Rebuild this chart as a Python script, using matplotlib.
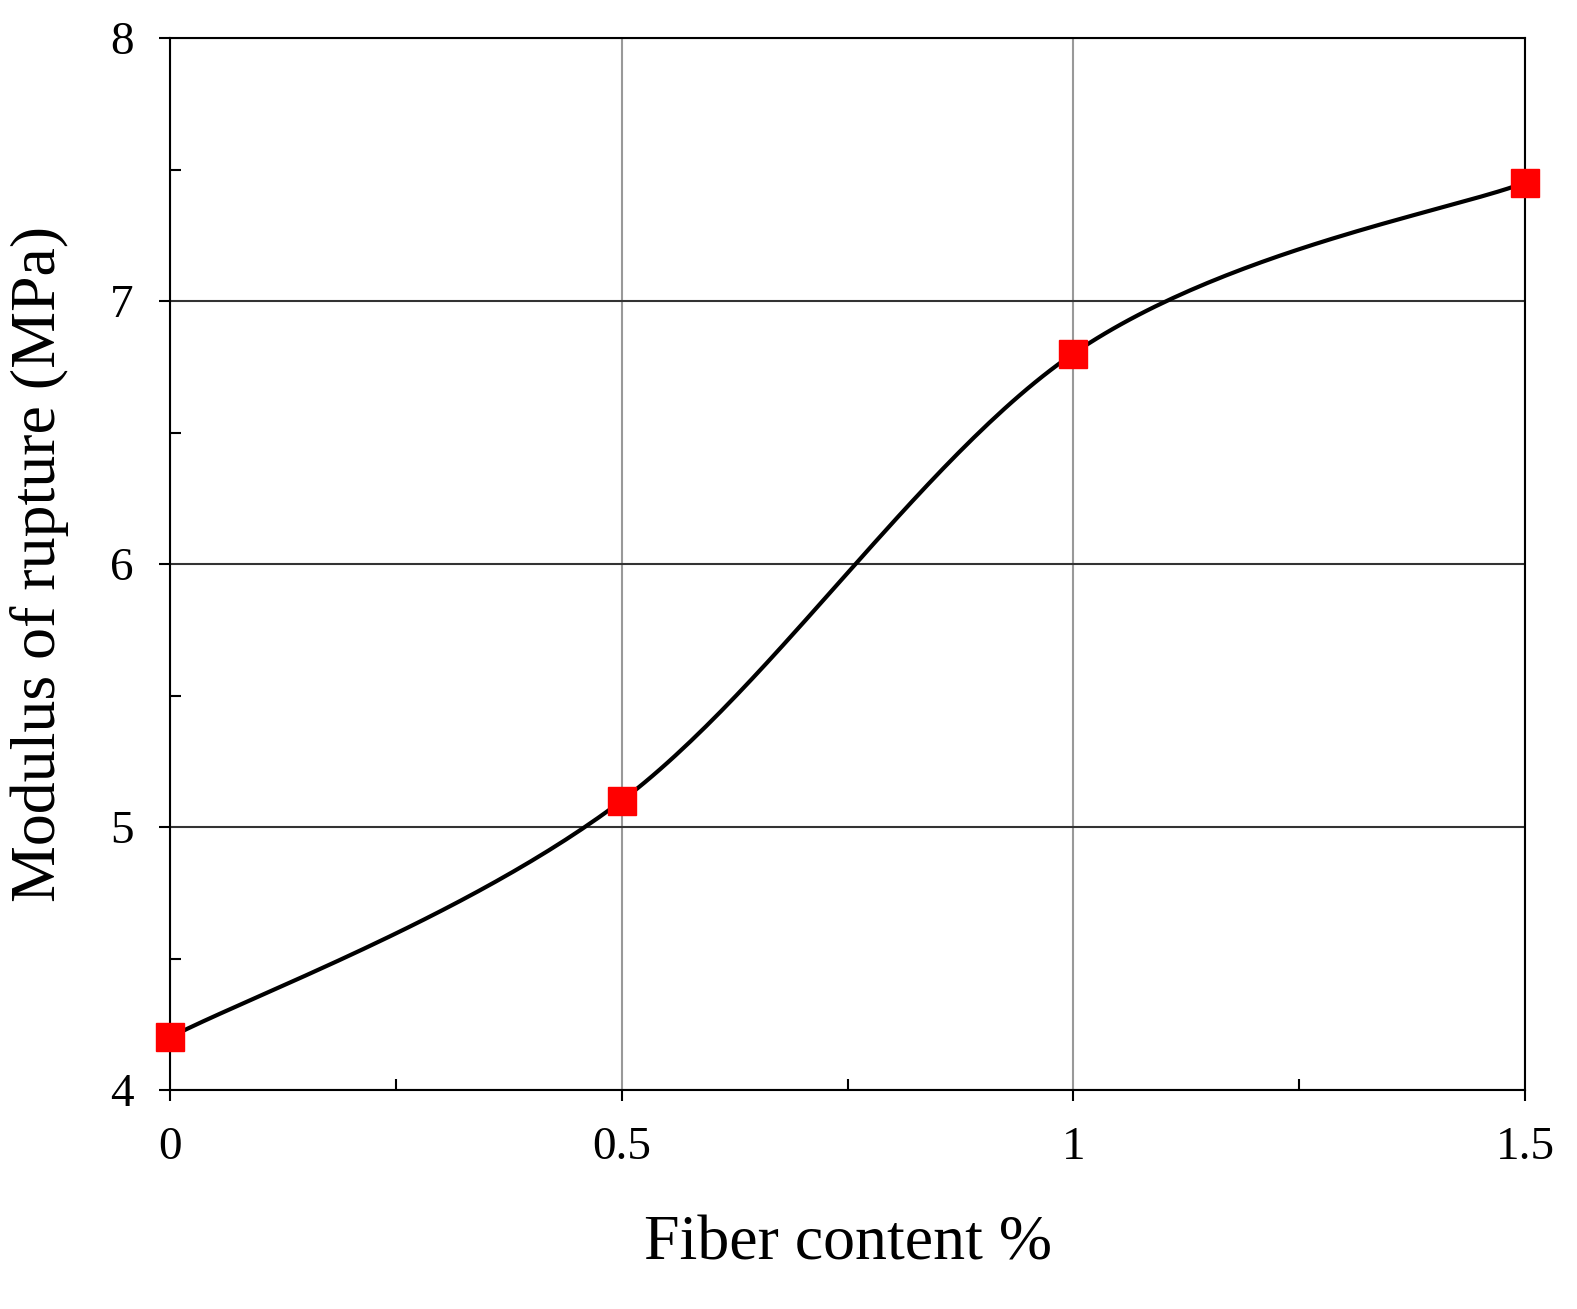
import matplotlib
matplotlib.use("Agg")
import matplotlib.pyplot as plt
import numpy as np
from matplotlib.ticker import MultipleLocator

fiber = [0, 0.5, 1.0, 1.5]
mor = [4.2, 5.1, 6.8, 7.45]

def catmull_rom(x, y, n=60):
    # Excel-style smoothed line through the points
    p = np.column_stack([x, y]).astype(float)
    p = np.vstack([p[0], p, p[-1]])
    out = []
    for i in range(1, len(p) - 2):
        t = np.linspace(0, 1, n)[:, None]
        p0, p1, p2, p3 = p[i - 1], p[i], p[i + 1], p[i + 2]
        seg = 0.5 * ((2 * p1) + (-p0 + p2) * t + (2 * p0 - 5 * p1 + 4 * p2 - p3) * t**2
                     + (-p0 + 3 * p1 - 3 * p2 + p3) * t**3)
        out.append(seg)
    s = np.vstack(out)
    return s[:, 0], s[:, 1]

plt.rcParams['font.family'] = ['Liberation Serif']
fig = plt.figure(figsize=(15.77, 13.09), dpi=100)
ax = fig.add_axes([170 / 1577, 1 - 1090 / 1309, 1355 / 1577, 1052 / 1309])

sx, sy = catmull_rom(fiber, mor)
ax.plot(sx, sy, color='black', linewidth=3, zorder=3)
ax.plot(fiber, mor, linestyle='none', marker='s', markersize=20, color='#ff0000', zorder=4, clip_on=False)

ax.set_xlim(0, 1.5)
ax.set_ylim(4, 8)
ax.xaxis.set_major_locator(MultipleLocator(0.5))
ax.xaxis.set_minor_locator(MultipleLocator(0.25))
ax.yaxis.set_major_locator(MultipleLocator(1))
ax.yaxis.set_minor_locator(MultipleLocator(0.5))
ax.set_xticks([0, 0.5, 1, 1.5], ['0', '0.5', '1', '1.5'])
ax.grid(True, axis='x', which='major', color='#999999', linewidth=1.5)
ax.grid(True, axis='y', which='major', color='#333333', linewidth=1.5)
ax.tick_params(which='major', direction='out', length=8, width=1.5, labelsize=34, pad=18)
ax.tick_params(which='minor', direction='in', length=8, width=1.5)
for sp in ax.spines.values():
    sp.set_linewidth(1.5)

ax.set_xlabel('Fiber content %', fontsize=46, labelpad=34)
ax.set_ylabel('Modulus of rupture (MPa)', fontsize=46, labelpad=30)

fig.savefig('out.png', dpi=100)
